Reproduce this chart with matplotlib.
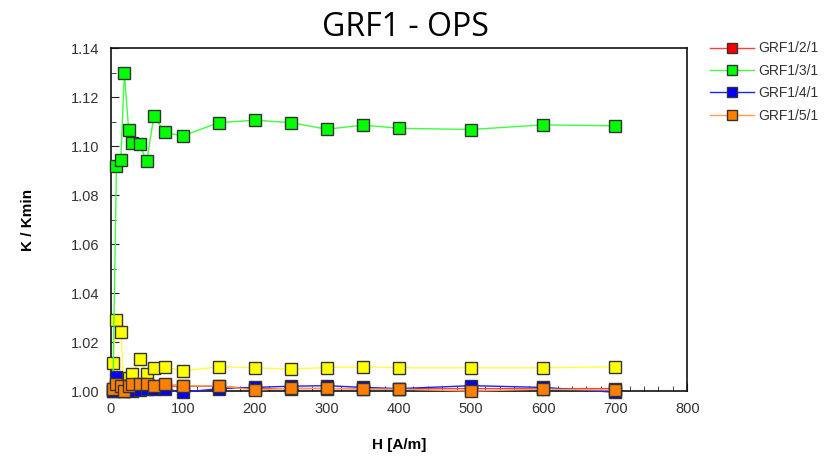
import matplotlib.pyplot as plt
from matplotlib.ticker import MultipleLocator

# H [A/m] measurement points
H = [3, 8, 14, 19, 25, 30, 40, 50, 60, 75, 100, 150, 200, 250, 300, 350, 400, 500, 600, 700]

grf1_2_1 = [1.001, 1.002, 1.002, 1.001, 1.002, 1.002, 1.002, 1.002, 1.002, 1.002, 1.002, 1.002,
            1.001, 1.001, 1.001, 1.001, 1.001, 1.001, 1.001, 1.001]
grf1_3_1 = [1.000, 1.0918, 1.0945, 1.1297, 1.1065, 1.1011, 1.1007, 1.0939, 1.1123, 1.1056, 1.1042,
            1.1096, 1.1106, 1.1096, 1.1069, 1.1086, 1.1073, 1.1068, 1.1087, 1.1083]
grf1_4_1 = [1.000, 1.0058, 1.002, 1.000, 1.001, 1.000, 1.0005, 1.001, 1.001, 1.001, 0.9995, 1.001,
            1.0015, 1.002, 1.0022, 1.0015, 1.001, 1.0022, 1.0015, 0.9995]
grf1_5_1 = [1.001, 1.003, 1.002, 1.000, 1.002, 1.003, 1.003, 1.003, 1.002, 1.003, 1.0022, 1.0022,
            1.0004, 1.0012, 1.0011, 1.0008, 1.0008, 1.000, 1.0008, 1.0004]
# series without legend entry (yellow)
extra = [1.0113, 1.029, 1.024, 1.000, 1.0053, 1.0068, 1.0131, 1.0068, 1.0095, 1.0099, 1.0082,
         1.0099, 1.0095, 1.009, 1.0096, 1.0099, 1.0095, 1.0095, 1.0095, 1.0099]

fig = plt.figure(figsize=(8.26, 4.59), dpi=100)
ax = fig.add_axes([0.134, 0.148, 0.698, 0.747])

ms = 8
kw = dict(marker='s', markersize=ms, markeredgecolor='#333333', markeredgewidth=1.0,
          linewidth=1.0, clip_on=False)
ax.plot(H, extra, color='#ffff40', markerfacecolor='#ffff00', zorder=3, **kw)
ax.plot(H, grf1_3_1, color='#40ff40', markerfacecolor='#00ff00', label='GRF1/3/1', zorder=4, **kw)
ax.plot(H, grf1_2_1, color='#ff4040', markerfacecolor='#ff0000', label='GRF1/2/1', zorder=2, **kw)
ax.plot(H, grf1_4_1, color='#2020ff', markerfacecolor='#0000ff', label='GRF1/4/1', zorder=5, **kw)
ax.plot(H, grf1_5_1, color='#ffa050', markerfacecolor='#ff8000', label='GRF1/5/1', zorder=6, **kw)

ax.set_xlim(0, 800)
ax.set_ylim(1.00, 1.14)
ax.xaxis.set_major_locator(MultipleLocator(100))
ax.xaxis.set_minor_locator(MultipleLocator(20))
ax.yaxis.set_major_locator(MultipleLocator(0.02))
ax.yaxis.set_minor_locator(MultipleLocator(0.01))
ax.yaxis.set_major_formatter(plt.FuncFormatter(lambda v, p: f'{v:.2f}'))
ax.tick_params(which='both', direction='in', labelsize=10.5, colors='#222222', labelcolor='#333333')
ax.tick_params(which='major', length=6, pad=8)
ax.tick_params(which='minor', length=3.5)
for s in ax.spines.values():
    s.set_linewidth(1.2)
    s.set_color('#111111')
for t in ax.get_xticklabels() + ax.get_yticklabels():
    t.set_fontfamily('Liberation Sans')

ax.set_xlabel('H [A/m]', fontsize=11, fontweight='bold', family='Liberation Sans', labelpad=16)
ax.set_ylabel('K / Kmin', fontsize=11, fontweight='bold', family='Liberation Sans', labelpad=26)

fig.text(405 / 826, 1 - 27 / 459, 'GRF1 - OPS', ha='center', va='center', fontsize=23,
         family='Open Sans')

handles, labels = ax.get_legend_handles_labels()
order = [labels.index(l) for l in ['GRF1/2/1', 'GRF1/3/1', 'GRF1/4/1', 'GRF1/5/1']]
leg = fig.legend([handles[i] for i in order], [labels[i] for i in order],
                 loc='upper left', bbox_to_anchor=(697 / 826, 1 - 29 / 459), frameon=False,
                 prop={'family': 'Liberation Sans', 'size': 10}, handlelength=3.2,
                 labelspacing=0.6, markerscale=0.9, handletextpad=0.3)
for t in leg.get_texts():
    t.set_color('#333333')

fig.savefig('out.png', dpi=100)
